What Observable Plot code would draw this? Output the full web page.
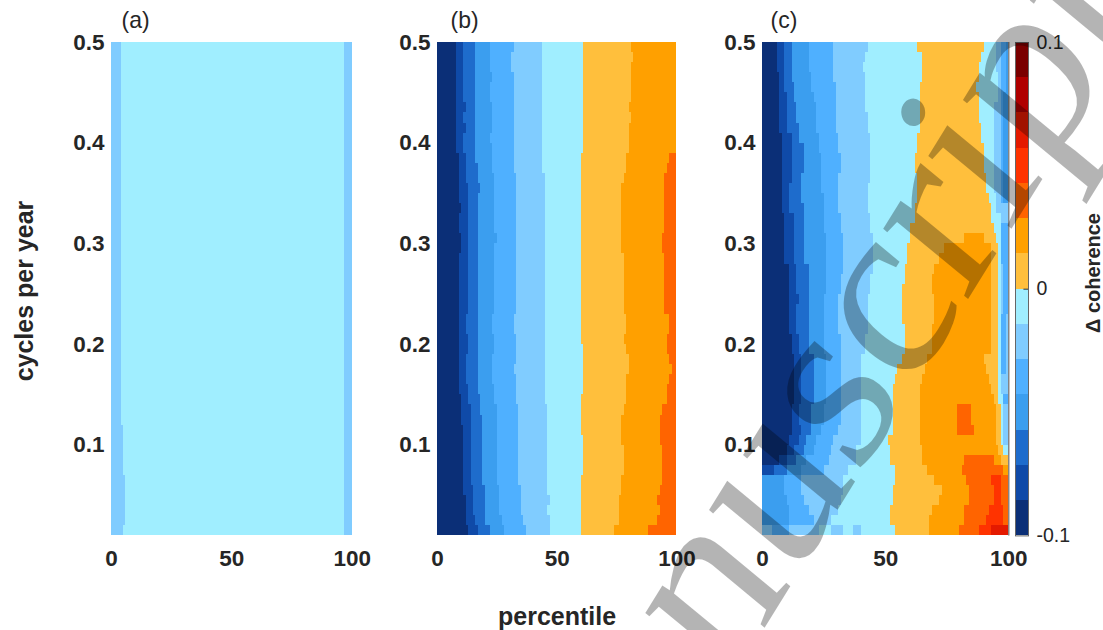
<!DOCTYPE html>
<html>
<head>
<meta charset="utf-8">
<script src="https://cdn.jsdelivr.net/npm/d3@7"></script>
<script src="https://cdn.jsdelivr.net/npm/@observablehq/plot@0.6"></script>
<style>
html,body{margin:0;padding:0;background:#fff;}
#page{position:relative;width:1103px;height:630px;overflow:hidden;font-family:"Liberation Sans",Arial,sans-serif;color:#262626;}
#page>svg,.panel{position:absolute;}
.lbl{position:absolute;white-space:nowrap;font-weight:bold;line-height:1;}
#wm{position:absolute;left:0;top:0;pointer-events:none;}
</style>
</head>
<body>
<div id="page"></div>
<script>
// Colour levels of the colour bar, bottom to top
const levels = [-7,-6,-5,-4,-3,-2,-1,1,2,3,4,5,6,7];
const palette = ["#0b2f77","#0f4aa8","#1e6ccc","#3b9eef","#4fb0ff","#80ccff","#a0eeff","#ffbf3c","#ffa000","#ff6400","#ff3300","#e41a00","#b00000","#7a0000"];
const xTicks = [0,50,100];
const yTicks = [0.1,0.2,0.3,0.4,0.5];
const barTicks = [-0.1,0,0.1];
const rowTop = 0.5, rowStep = 0.01;

// Panel (a): percentile boundaries, one value per row from 0.5 down to 0.01
const aLeft = [4,4,4,4,4,4,4,4,4,4,4,4,4,4,4,4,4,4,4,4,4,4,4,4,4,4,4,4,4,4,4,4,4,4,4,4,4,4,5,5,5,5,5,6,6,6,6,6,5];
const aRight = [97,97,97,97,97,97,97,97,97,97,97,97,97,97,97,97,97,97,97,97,97,97,97,97,97,97,97,97,97,97,97,97,97,97,97,97,97,97,97,97,97,97,97,97,97,97,97,97,97];

// Panel (b)
const b1 = [8,8,8,8,8,8,8,8,8,8,8,9,9,9,9,9,10,9,9,10,10,9,9,9,9,9,9,9,9,9,9,9,9,9,9,10,10,10,11,11,11,11,11,11,11,12,12,12,13];
const b2 = [11,11,11,11,11,11,12,11,12,11,11,12,12,12,13,13,13,13,13,13,13,13,13,13,13,13,13,12,12,13,13,12,12,12,13,13,14,14,14,14,14,14,14,14,15,15,15,16,17];
const b3 = [16,16,16,16,16,16,16,16,16,16,16,16,17,17,18,17,17,17,17,17,17,17,17,17,17,17,17,17,17,17,17,17,17,17,17,18,18,19,19,19,19,19,19,19,20,20,20,20,22];
const b4 = [22,22,22,23,22,22,23,23,23,22,23,23,23,24,24,24,24,24,24,25,24,24,24,24,24,24,24,23,23,24,24,23,23,23,24,24,25,25,25,25,25,25,25,25,26,26,26,27,28];
const b5 = [32,31,31,32,32,32,32,32,32,32,32,32,32,33,33,33,33,33,33,33,33,33,33,33,33,33,33,32,32,33,33,33,32,33,33,33,34,34,34,34,34,34,34,34,35,35,35,36,37];
const b6 = [44,44,44,44,44,44,44,44,44,44,44,44,44,45,45,45,45,45,45,45,45,45,45,45,45,45,45,45,45,45,45,45,45,45,45,45,46,46,46,46,46,46,46,46,46,47,46,47,47];
const b7 = [61,61,61,61,61,61,61,61,61,61,61,60,60,60,60,60,60,60,60,60,60,60,60,60,60,60,60,60,60,60,61,61,61,61,61,60,60,60,60,61,61,61,61,60,60,60,60,60,60];
const b8 = [81,82,81,81,81,81,80,81,80,80,80,79,79,78,77,77,77,77,77,77,77,78,78,78,78,78,78,79,79,78,79,80,80,79,79,79,78,77,77,77,78,78,78,77,77,76,76,76,74];
const b9 = [100,100,100,100,100,100,100,100,100,100,100,97,96,95,95,95,95,95,95,94,94,95,95,95,95,95,95,97,97,96,96,97,98,97,96,96,94,93,93,93,94,94,94,94,93,92,93,92,88];

// Panel (c)
const c1 = [6,6,6,7,7,7,7,7,7,8,8,8,8,8,8,8,8,9,9,9,9,9,11,11,11,11,11,11,11,12,12,13,13,13,13,13,12,12,12,11,10,7,0,0,0,0,0,0,0];
const c2 = [9,9,9,9,9,10,10,10,10,12,12,12,12,12,11,11,11,13,13,13,13,13,14,14,14,15,14,14,14,15,15,16,16,16,16,16,15,15,16,15,13,10,5,0,0,0,0,0,0];
const c3 = [12,12,12,12,13,13,14,14,15,15,17,17,17,16,16,16,17,17,17,17,17,17,19,19,19,19,19,19,19,19,19,21,21,21,21,21,20,20,20,18,17,14,10,0,0,0,0,0,0];
const c4 = [19,19,19,20,20,21,22,22,22,23,23,24,24,24,24,25,25,25,25,26,26,26,26,26,26,25,25,25,25,25,25,26,26,26,26,26,25,25,24,22,21,18,16,9,9,10,11,11,0];
const c5 = [29,29,29,29,30,30,30,30,30,31,31,32,32,31,31,31,31,32,32,33,33,33,33,32,32,31,31,31,31,32,32,32,32,32,32,32,32,32,31,29,28,27,25,16,16,17,19,21,11];
const c6 = [43,42,41,42,42,42,42,43,43,44,44,44,44,44,43,43,43,44,44,45,45,45,45,44,44,43,43,43,43,42,42,40,40,40,40,40,40,40,40,40,38,38,35,33,33,32,31,28,23];
const cYellowFrom = [63,65,65,65,64,64,64,64,64,63,63,62,62,63,63,63,62,62,60,60,59,59,58,58,57,57,57,57,58,58,58,57,55,54,53,53,53,53,53,51,52,52,54,54,53,53,52,52,54];
const cYellowTo = [90,89,88,88,87,88,88,88,89,89,90,90,90,91,91,92,93,93,94,95,96,96,96,96,96,96,96,96,96,96,96,96,96,96,96,96,97,97,97,97,98,100,100,100,100,100,100,100,100];
const cOrangeFrom = [0,0,0,0,0,0,0,0,0,0,0,0,0,0,0,0,0,0,0,82,74,72,70,69,69,70,70,70,69,69,69,67,66,65,64,64,64,64,64,64,65,65,67,70,73,72,69,68,68];
const cOrangeTo = [0,0,0,0,0,0,0,0,0,0,0,0,0,0,0,0,0,0,0,90,93,93,93,93,93,93,93,93,93,93,93,90,91,92,93,94,95,95,95,95,96,97,100,100,100,100,100,100,100];
const cEdgeLight = [95,95,95,96,96,96,94,94,94,94,94,94,94,94,94,95,95,97,97,97,97,97,97,97,97,97,97,97,97,97,97,97,97,97,97,98,98,98,98,98,100,100,100,100,100,100,100,100,100];
const cEdgeBlueFrom = [97,97,97,97,97,97,97,97,97,97,97,97,97,97,97,97,100,100,97,97,97,97,98,98,98,98,98,97,97,97,97,97,97,100,100,98,100,100,100,100,100,100,100,100,100,100,100,100,100];
const cEdgeBlueTo = [100,100,100,100,100,100,100,100,100,100,100,100,100,100,100,100,100,100,100,100,100,100,100,100,100,100,100,99,99,99,99,99,99,100,100,100,100,100,100,100,100,100,100,100,100,100,100,100,100];
const cEdgeDeep = [99,99,99,99,99,98,98,98,98,98,98,98,98,98,98,98,100,100,100,100,100,100,100,100,100,100,100,100,100,100,100,100,100,100,100,100,100,100,100,100,100,100,100,100,100,100,100,100,100];
// Small patches of panel (c): row index, from, to, level
const cPatchRow   = [36,37,38,41,42,43,43,44,44,45,45,46,46,47,47,48,48,48,48,48,48];
const cPatchFrom  = [79,79,79,82,81,83,93,84,94,84,94,82,92,82,91,80,88,93,0,28,37];
const cPatchTo    = [85,85,86,94,98,100,97,100,97,100,97,100,98,100,98,100,93,100,4,33,40];
const cPatchLevel = [3,3,3,3,3,3,4,3,4,3,4,3,4,3,4,3,4,5,-2,-2,-2];

const rowCount = b1.length;
const band = (level, from, to) => from.map((f, i) => ({
  level, x1: f, x2: Array.isArray(to) ? to[i] : to,
  y1: rowTop - i * rowStep, y2: rowTop - (i + 1) * rowStep
})).filter(d => d.x2 > d.x1);
const base = band(-1, new Array(rowCount).fill(0), 100);

const panelA = [
  ...base,
  ...band(-2, new Array(rowCount).fill(0), aLeft),
  ...band(-2, aRight, 100)
];
const zeros = new Array(rowCount).fill(0);
const panelB = [
  ...base,
  ...band(-2, zeros, b6), ...band(-3, zeros, b5), ...band(-4, zeros, b4),
  ...band(-5, zeros, b3), ...band(-6, zeros, b2), ...band(-7, zeros, b1),
  ...band(1, b7, 100), ...band(2, b8, 100), ...band(3, b9, 100)
];
const panelC = [
  ...base,
  ...band(-2, zeros, c6), ...band(-3, zeros, c5), ...band(-4, zeros, c4),
  ...band(-5, zeros, c3), ...band(-6, zeros, c2), ...band(-7, zeros, c1),
  ...band(1, cYellowFrom, cYellowTo), ...band(2, cOrangeFrom, cOrangeTo),
  ...band(-2, cEdgeLight, 100), ...band(-3, cEdgeBlueFrom, cEdgeBlueTo), ...band(-4, cEdgeDeep, 100),
  ...cPatchRow.map((r, k) => ({
    level: cPatchLevel[k], x1: cPatchFrom[k], x2: cPatchTo[k],
    y1: rowTop - r * rowStep, y2: rowTop - (r + 1) * rowStep
  }))
];

const page = document.getElementById("page");
const font = '"Liberation Sans",Arial,sans-serif';
const colorScale = {type: "ordinal", domain: levels, range: palette};

function panel(data, left, width, title, titleDx, extra = []) {
  const mL = 60, mR = 30, mT = 42, mB = 50, inner = 493.4;
  const svg = Plot.plot({
    width: width + mL + mR, height: inner + mT + mB,
    marginLeft: mL, marginRight: mR, marginTop: mT, marginBottom: mB,
    x: {domain: [0, 100]},
    y: {domain: [0.01, 0.5]},
    color: colorScale,
    style: {fontFamily: font, fontSize: "22.5px", fontWeight: "bold", color: "#262626", background: "transparent", overflow: "visible"},
    marks: [
      Plot.rect(data, {x1: "x1", x2: "x2", y1: "y1", y2: "y2", fill: "level", shapeRendering: "crispEdges"}),
      ...extra,
      Plot.axisX({ticks: xTicks, tickSize: 0, tickPadding: 14, label: null, tickFormat: d => String(d)}),
      Plot.axisY({ticks: yTicks, tickSize: 0, tickPadding: 7, label: null, tickFormat: d => String(d)}),
      Plot.text([title], {frameAnchor: "top-left", dx: titleDx, dy: -31, textAnchor: "start", fontSize: 23, fontWeight: "normal", lineAnchor: "top"})
    ]
  });
  svg.style.left = (left - mL) + "px";
  svg.style.top = "0px";
  page.appendChild(svg);
}

panel(panelA, 111.3, 240.7, "(a)", 10);
panel(panelB, 437.3, 239.4, "(b)", 13);
panel(panelC, 762, 246.3, "(c)", 8, [Plot.ruleX([100], {stroke: "#666", strokeWidth: 1.2})]);

// Colour bar
const barStep = 0.2 / levels.length;
const barData = levels.map((level, k) => ({level, y1: -0.1 + k * barStep, y2: -0.1 + (k + 1) * barStep}));
const bar = Plot.plot({
  width: 13 + 2 + 70, height: 493.4 + 42 + 50,
  marginLeft: 2, marginRight: 70, marginTop: 42, marginBottom: 50,
  x: {domain: [0, 1], axis: null},
  y: {domain: [-0.1, 0.1]},
  color: colorScale,
  style: {fontFamily: font, fontSize: "19.5px", fontWeight: "500", color: "#262626", background: "transparent", overflow: "visible"},
  marks: [
    Plot.rect(barData, {x1: 0, x2: 1, y1: "y1", y2: "y2", fill: "level", shapeRendering: "crispEdges"}),
    Plot.frame({stroke: "#666", strokeWidth: 1}),
    Plot.ruleY([0], {x1: 0.65, x2: 1, stroke: "#333"}),
    Plot.axisY({anchor: "right", ticks: barTicks, tickSize: 0, tickPadding: 8, label: null, tickFormat: d => d === 0 ? "0" : String(d)})
  ]
});
bar.style.left = "1013px";
bar.style.top = "0px";
page.appendChild(bar);

// Shared labels
function label(text, css) {
  const d = document.createElement("div");
  d.className = "lbl";
  d.textContent = text;
  Object.assign(d.style, css);
  page.appendChild(d);
}
label("percentile", {left: "498px", top: "604px", fontSize: "25px"});
label("cycles per year", {left: "24px", top: "291px", fontSize: "25px", transform: "translate(-50%,-50%) rotate(-90deg)"});
label("\u0394 coherence", {left: "1093px", top: "273px", fontSize: "20px", transform: "translate(-50%,-50%) rotate(-90deg)"});

// Watermark
const NS = "http://www.w3.org/2000/svg";
const wm = document.createElementNS(NS, "svg");
wm.setAttribute("id", "wm");
wm.setAttribute("width", 1103);
wm.setAttribute("height", 630);
const t = document.createElementNS(NS, "text");
t.textContent = "Manuscript";
t.setAttribute("transform", "matrix(1.30,-2.10,1.85,1.53,554,968)");
t.setAttribute("font-family", '"Liberation Serif",serif');
t.setAttribute("font-size", "100");
t.setAttribute("fill", "#000");
t.setAttribute("fill-opacity", "0.295");
wm.appendChild(t);
page.appendChild(wm);
</script>
</body>
</html>
